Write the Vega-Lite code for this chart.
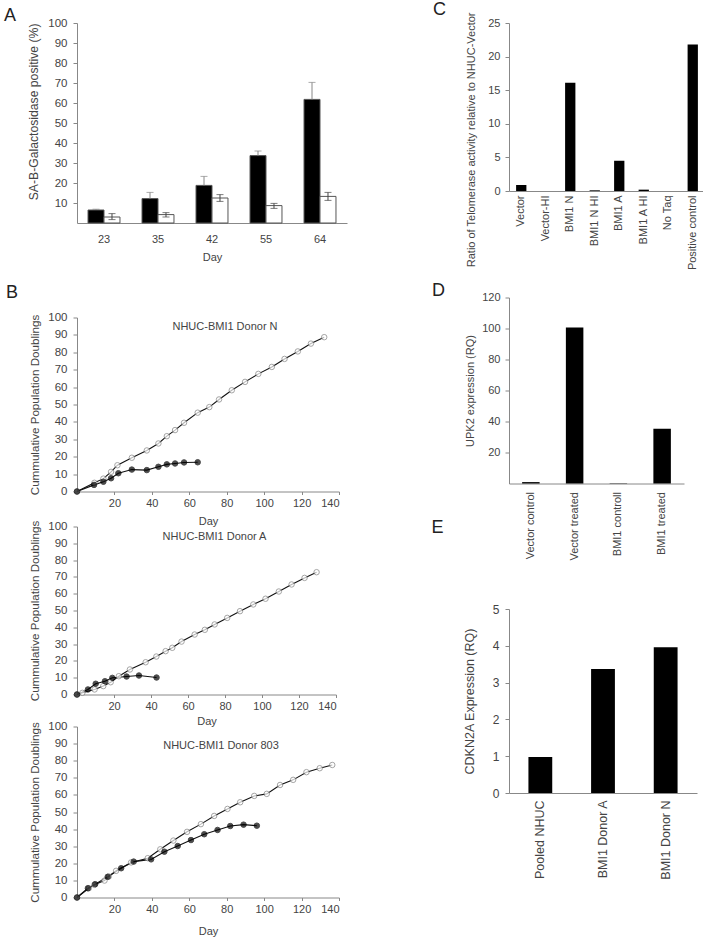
{
  "$schema": "https://vega.github.io/schema/vega-lite/v6.json",
  "background": "white",
  "padding": {"left": 3, "top": 1, "right": 0, "bottom": 0},
  "config": {
    "font": "Liberation Sans",
    "view": {"stroke": null},
    "axis": {
      "domainColor": "#888", "tickColor": "#888", "labelColor": "#444", "titleColor": "#444",
      "labelFont": "Liberation Sans", "titleFont": "Liberation Sans", "labelOverlap": false,
      "labelFontSize": 11, "titleFontSize": 11, "titleFontWeight": "normal", "grid": false
    },
    "title": {"font": "Liberation Sans", "fontWeight": "normal", "fontSize": 18, "color": "#222", "anchor": "start"}
  },
  "datasets": {
    "galact": [
      {"day": "23", "group": "Vector", "value": 6.5, "lo": 6.5, "hi": 6.9},
      {"day": "23", "group": "BMI1", "value": 3.0, "lo": 1.7, "hi": 4.7},
      {"day": "35", "group": "Vector", "value": 12.2, "lo": 12.2, "hi": 15.3},
      {"day": "35", "group": "BMI1", "value": 4.2, "lo": 3.0, "hi": 5.2},
      {"day": "42", "group": "Vector", "value": 18.8, "lo": 18.8, "hi": 23.3},
      {"day": "42", "group": "BMI1", "value": 12.5, "lo": 10.8, "hi": 14.2},
      {"day": "55", "group": "Vector", "value": 33.7, "lo": 33.7, "hi": 36.0},
      {"day": "55", "group": "BMI1", "value": 8.7, "lo": 7.3, "hi": 9.8},
      {"day": "64", "group": "Vector", "value": 61.8, "lo": 61.8, "hi": 70.3},
      {"day": "64", "group": "BMI1", "value": 13.3, "lo": 11.3, "hi": 15.3}
    ],
    "b1": [
      {"series": "BMI1", "day": 0, "pd": 0}, {"series": "BMI1", "day": 9.3, "pd": 5.0}, {"series": "BMI1", "day": 14.1, "pd": 7.4},
      {"series": "BMI1", "day": 18.2, "pd": 11.3}, {"series": "BMI1", "day": 21.6, "pd": 15.1}, {"series": "BMI1", "day": 29.3, "pd": 19.4},
      {"series": "BMI1", "day": 37.3, "pd": 23.6}, {"series": "BMI1", "day": 43.5, "pd": 27.6}, {"series": "BMI1", "day": 48.0, "pd": 31.8},
      {"series": "BMI1", "day": 52.4, "pd": 35.3}, {"series": "BMI1", "day": 57.2, "pd": 39.5}, {"series": "BMI1", "day": 64.5, "pd": 45.3},
      {"series": "BMI1", "day": 70.7, "pd": 48.5}, {"series": "BMI1", "day": 75.9, "pd": 52.9}, {"series": "BMI1", "day": 82.7, "pd": 58.2},
      {"series": "BMI1", "day": 89.8, "pd": 63.0}, {"series": "BMI1", "day": 96.9, "pd": 67.6}, {"series": "BMI1", "day": 104.1, "pd": 71.6},
      {"series": "BMI1", "day": 110.9, "pd": 76.2}, {"series": "BMI1", "day": 118.0, "pd": 80.5}, {"series": "BMI1", "day": 125.0, "pd": 85.0},
      {"series": "BMI1", "day": 132.1, "pd": 88.7},
      {"series": "Vector", "day": 0, "pd": 0}, {"series": "Vector", "day": 9.1, "pd": 3.8}, {"series": "Vector", "day": 14.1, "pd": 5.6},
      {"series": "Vector", "day": 18.2, "pd": 7.6}, {"series": "Vector", "day": 22.1, "pd": 10.5}, {"series": "Vector", "day": 29.3, "pd": 12.6},
      {"series": "Vector", "day": 37.3, "pd": 12.3}, {"series": "Vector", "day": 43.5, "pd": 14.2}, {"series": "Vector", "day": 48.0, "pd": 15.6},
      {"series": "Vector", "day": 52.4, "pd": 16.1}, {"series": "Vector", "day": 57.2, "pd": 16.7}, {"series": "Vector", "day": 64.5, "pd": 16.8}
    ],
    "b2": [
      {"series": "BMI1", "day": 0, "pd": 0}, {"series": "BMI1", "day": 2.9, "pd": 1.0}, {"series": "BMI1", "day": 9.5, "pd": 3.0},
      {"series": "BMI1", "day": 14.2, "pd": 5.0}, {"series": "BMI1", "day": 18.2, "pd": 7.3}, {"series": "BMI1", "day": 22.6, "pd": 10.9},
      {"series": "BMI1", "day": 28.6, "pd": 14.9}, {"series": "BMI1", "day": 37.1, "pd": 19.2}, {"series": "BMI1", "day": 42.9, "pd": 22.6},
      {"series": "BMI1", "day": 47.9, "pd": 25.8}, {"series": "BMI1", "day": 51.5, "pd": 27.8}, {"series": "BMI1", "day": 56.5, "pd": 31.5},
      {"series": "BMI1", "day": 63.6, "pd": 35.7}, {"series": "BMI1", "day": 69.1, "pd": 38.5}, {"series": "BMI1", "day": 74.4, "pd": 41.7},
      {"series": "BMI1", "day": 81.2, "pd": 45.6}, {"series": "BMI1", "day": 88.1, "pd": 49.6}, {"series": "BMI1", "day": 95.3, "pd": 53.6},
      {"series": "BMI1", "day": 101.9, "pd": 57.0}, {"series": "BMI1", "day": 109.1, "pd": 61.3}, {"series": "BMI1", "day": 116.0, "pd": 65.5},
      {"series": "BMI1", "day": 123.0, "pd": 69.4}, {"series": "BMI1", "day": 129.5, "pd": 72.8},
      {"series": "Vector", "day": 0, "pd": 0}, {"series": "Vector", "day": 5.9, "pd": 3.0}, {"series": "Vector", "day": 10.1, "pd": 6.4},
      {"series": "Vector", "day": 15.1, "pd": 7.9}, {"series": "Vector", "day": 19.1, "pd": 9.9}, {"series": "Vector", "day": 26.8, "pd": 10.7},
      {"series": "Vector", "day": 33.5, "pd": 11.3}, {"series": "Vector", "day": 43.0, "pd": 10.1}
    ],
    "b3": [
      {"series": "BMI1", "day": 0, "pd": 0}, {"series": "BMI1", "day": 6.3, "pd": 5.4}, {"series": "BMI1", "day": 9.3, "pd": 7.4},
      {"series": "BMI1", "day": 14.7, "pd": 9.9}, {"series": "BMI1", "day": 17.0, "pd": 12.3}, {"series": "BMI1", "day": 20.9, "pd": 15.6},
      {"series": "BMI1", "day": 28.9, "pd": 20.5}, {"series": "BMI1", "day": 37.8, "pd": 23.0}, {"series": "BMI1", "day": 44.5, "pd": 28.2},
      {"series": "BMI1", "day": 51.5, "pd": 33.3}, {"series": "BMI1", "day": 58.8, "pd": 38.4}, {"series": "BMI1", "day": 66.2, "pd": 42.9},
      {"series": "BMI1", "day": 73.3, "pd": 47.7}, {"series": "BMI1", "day": 80.4, "pd": 51.8}, {"series": "BMI1", "day": 87.2, "pd": 55.7},
      {"series": "BMI1", "day": 94.7, "pd": 59.4}, {"series": "BMI1", "day": 101.4, "pd": 60.6}, {"series": "BMI1", "day": 108.5, "pd": 65.8},
      {"series": "BMI1", "day": 115.5, "pd": 68.8}, {"series": "BMI1", "day": 122.6, "pd": 73.3}, {"series": "BMI1", "day": 129.7, "pd": 75.6},
      {"series": "BMI1", "day": 136.4, "pd": 77.5},
      {"series": "Vector", "day": 0, "pd": 0}, {"series": "Vector", "day": 5.8, "pd": 5.4}, {"series": "Vector", "day": 9.7, "pd": 7.8},
      {"series": "Vector", "day": 16.4, "pd": 12.1}, {"series": "Vector", "day": 23.6, "pd": 17.1}, {"series": "Vector", "day": 30.3, "pd": 21.0},
      {"series": "Vector", "day": 39.6, "pd": 22.3}, {"series": "Vector", "day": 46.7, "pd": 26.8}, {"series": "Vector", "day": 53.8, "pd": 30.1},
      {"series": "Vector", "day": 60.9, "pd": 33.6}, {"series": "Vector", "day": 68.0, "pd": 37.0}, {"series": "Vector", "day": 75.1, "pd": 39.5},
      {"series": "Vector", "day": 81.9, "pd": 41.8}, {"series": "Vector", "day": 89.0, "pd": 42.6}, {"series": "Vector", "day": 96.1, "pd": 42.0}
    ],
    "telo": [
      {"sample": "Vector", "ratio": 0.9}, {"sample": "Vector-HI", "ratio": 0.0}, {"sample": "BMI1 N", "ratio": 16.1},
      {"sample": "BMI1 N HI", "ratio": 0.1}, {"sample": "BMI1 A", "ratio": 4.5}, {"sample": "BMI1 A HI", "ratio": 0.2},
      {"sample": "No Taq", "ratio": 0.0}, {"sample": "Positive control", "ratio": 21.8}
    ],
    "upk2": [
      {"sample": "Vector control", "rq": 0.9}, {"sample": "Vector treated", "rq": 100.7},
      {"sample": "BMI1 controll", "rq": 0.2}, {"sample": "BMI1 treated", "rq": 35.4}
    ],
    "cdkn2a": [
      {"sample": "Pooled NHUC", "rq": 0.98}, {"sample": "BMI1 Donor A", "rq": 3.37}, {"sample": "BMI1 Donor N", "rq": 3.96}
    ]
  },
  "spacing": 84,
  "hconcat": [
    {
      "spacing": 21.5,
      "vconcat": [
        {
          "width": 270, "height": 200,
          "title": {"text": "A", "dx": -23, "offset": -8},
          "data": {"name": "galact"},
          "encoding": {
            "x": {"field": "day", "type": "nominal", "sort": null,
                  "scale": {"paddingInner": 0, "paddingOuter": 0},
                  "axis": {"title": "Day", "labelAngle": 0, "ticks": false, "labelPadding": 10, "titlePadding": 7}},
            "xOffset": {"field": "group", "type": "nominal", "sort": ["Vector", "BMI1"],
                        "scale": {"paddingInner": 0, "paddingOuter": 0.69}}
          },
          "layer": [
            {
              "mark": {"type": "bar", "stroke": "#555", "strokeWidth": 1},
              "encoding": {
                "y": {"field": "value", "type": "quantitative", "scale": {"domain": [0, 100]},
                      "axis": {"title": "SA-B-Galactosidase positive (%)", "values": [10, 20, 30, 40, 50, 60, 70, 80, 90, 100],
                               "labelOverlap": false, "labelFontSize": 11.5, "titleFontSize": 12.2, "titleAnchor": "end", "titleY": 0,
                               "tickSize": 4, "labelPadding": 6, "minExtent": 30, "maxExtent": 30, "titlePadding": 7}},
                "fill": {"field": "group", "type": "nominal", "scale": {"domain": ["Vector", "BMI1"], "range": ["#000000", "#ffffff"]}, "legend": null}
              }
            },
            {
              "mark": {"type": "rule", "strokeWidth": 1},
              "encoding": {
                "y": {"field": "lo", "type": "quantitative",
                      "axis": {"title": "SA-B-Galactosidase positive (%)", "values": [10, 20, 30, 40, 50, 60, 70, 80, 90, 100],
                               "labelOverlap": false, "labelFontSize": 11.5, "titleFontSize": 12.2, "titleAnchor": "end", "titleY": 0,
                               "tickSize": 4, "labelPadding": 6, "minExtent": 30, "maxExtent": 30, "titlePadding": 7}},
                "y2": {"field": "hi"},
                "color": {"field": "group", "type": "nominal", "scale": {"domain": ["Vector", "BMI1"], "range": ["#888888", "#444444"]}, "legend": null}
              }
            },
            {
              "mark": {"type": "tick", "thickness": 1, "size": 7},
              "encoding": {
                "y": {"field": "hi", "type": "quantitative",
                      "axis": {"title": "SA-B-Galactosidase positive (%)", "values": [10, 20, 30, 40, 50, 60, 70, 80, 90, 100],
                               "labelOverlap": false, "labelFontSize": 11.5, "titleFontSize": 12.2, "titleAnchor": "end", "titleY": 0,
                               "tickSize": 4, "labelPadding": 6, "minExtent": 30, "maxExtent": 30, "titlePadding": 7}},
                "color": {"field": "group", "type": "nominal", "scale": {"domain": ["Vector", "BMI1"], "range": ["#888888", "#444444"]}, "legend": null}
              }
            },
            {
              "transform": [{"filter": {"field": "group", "equal": "BMI1"}}],
              "mark": {"type": "tick", "thickness": 1, "size": 7},
              "encoding": {
                "y": {"field": "lo", "type": "quantitative",
                      "axis": {"title": "SA-B-Galactosidase positive (%)", "values": [10, 20, 30, 40, 50, 60, 70, 80, 90, 100],
                               "labelOverlap": false, "labelFontSize": 11.5, "titleFontSize": 12.2, "titleAnchor": "end", "titleY": 0,
                               "tickSize": 4, "labelPadding": 6, "minExtent": 30, "maxExtent": 30, "titlePadding": 7}},
                "color": {"field": "group", "type": "nominal", "scale": {"domain": ["Vector", "BMI1"], "range": ["#888888", "#444444"]}, "legend": null}
              }
            }
          ]
        },
        {
          "title": {"text": "B", "dx": -23, "offset": 10},
          "spacing": -9,
          "vconcat": [
            {
              "width": 262, "height": 174,
              "title": {"text": "NHUC-BMI1 Donor N", "anchor": "middle", "frame": "group", "offset": -20, "dx": 17, "fontSize": 11, "color": "#444"},
              "data": {"name": "b1"},
              "encoding": {
                "x": {"field": "day", "type": "quantitative", "scale": {"domain": [0, 140]},
                      "axis": {"title": "Day", "values": [20, 40, 60, 80, 100, 120, 140], "tickSize": 3, "labelPadding": 3, "titlePadding": 7}},
                "y": {"field": "pd", "type": "quantitative", "scale": {"domain": [0, 100]},
                      "axis": {"title": "Cummulative Population Doublings", "values": [0, 10, 20, 30, 40, 50, 60, 70, 80, 90, 100],
                               "labelFontSize": 11.5, "titleFontSize": 11.6,
                               "tickSize": 4, "labelPadding": 6, "minExtent": 30, "maxExtent": 30, "titlePadding": 7}}
              },
              "layer": [
                {"mark": {"type": "line", "color": "#111111", "strokeWidth": 1.1}, "encoding": {"detail": {"field": "series"}}},
                {"mark": {"type": "point", "filled": true, "size": 30, "strokeWidth": 1},
                 "encoding": {
                   "fill": {"field": "series", "type": "nominal", "scale": {"domain": ["BMI1", "Vector"], "range": ["#d8d8d8", "#000000"]}, "legend": null},
                   "stroke": {"field": "series", "type": "nominal", "scale": {"domain": ["BMI1", "Vector"], "range": ["#808080", "#000000"]}, "legend": null}
                 }}
              ]
            },
            {
              "width": 259, "height": 168,
              "title": {"text": "NHUC-BMI1 Donor A", "anchor": "middle", "frame": "group", "offset": -22, "dx": 8, "fontSize": 11, "color": "#444"},
              "data": {"name": "b2"},
              "encoding": {
                "x": {"field": "day", "type": "quantitative", "scale": {"domain": [0, 140]},
                      "axis": {"title": "Day", "values": [20, 40, 60, 80, 100, 120, 140], "tickSize": 3, "labelPadding": 3, "titlePadding": 4}},
                "y": {"field": "pd", "type": "quantitative", "scale": {"domain": [0, 100]},
                      "axis": {"title": "Cummulative Population Doublings", "values": [0, 10, 20, 30, 40, 50, 60, 70, 80, 90, 100],
                               "labelFontSize": 11.5, "titleFontSize": 11.6,
                               "tickSize": 4, "labelPadding": 6, "minExtent": 30, "maxExtent": 30, "titlePadding": 7}}
              },
              "layer": [
                {"mark": {"type": "line", "color": "#111111", "strokeWidth": 1.1}, "encoding": {"detail": {"field": "series"}}},
                {"mark": {"type": "point", "filled": true, "size": 30, "strokeWidth": 1},
                 "encoding": {
                   "fill": {"field": "series", "type": "nominal", "scale": {"domain": ["BMI1", "Vector"], "range": ["#d8d8d8", "#000000"]}, "legend": null},
                   "stroke": {"field": "series", "type": "nominal", "scale": {"domain": ["BMI1", "Vector"], "range": ["#808080", "#000000"]}, "legend": null}
                 }}
              ]
            },
            {
              "width": 262, "height": 171,
              "title": {"text": "NHUC-BMI1 Donor 803", "anchor": "middle", "frame": "group", "offset": -30, "dx": 13, "fontSize": 11, "color": "#444"},
              "data": {"name": "b3"},
              "encoding": {
                "x": {"field": "day", "type": "quantitative", "scale": {"domain": [0, 140]},
                      "axis": {"title": "Day", "values": [20, 40, 60, 80, 100, 120, 140], "tickSize": 3, "labelPadding": 3, "titlePadding": 11}},
                "y": {"field": "pd", "type": "quantitative", "scale": {"domain": [0, 100]},
                      "axis": {"title": "Cummulative Population Doublings", "values": [0, 10, 20, 30, 40, 50, 60, 70, 80, 90, 100],
                               "labelFontSize": 11.5, "titleFontSize": 11.6,
                               "tickSize": 4, "labelPadding": 6, "minExtent": 30, "maxExtent": 30, "titlePadding": 7}}
              },
              "layer": [
                {"mark": {"type": "line", "color": "#111111", "strokeWidth": 1.1}, "encoding": {"detail": {"field": "series"}}},
                {"mark": {"type": "point", "filled": true, "size": 30, "strokeWidth": 1},
                 "encoding": {
                   "fill": {"field": "series", "type": "nominal", "scale": {"domain": ["BMI1", "Vector"], "range": ["#d8d8d8", "#000000"]}, "legend": null},
                   "stroke": {"field": "series", "type": "nominal", "scale": {"domain": ["BMI1", "Vector"], "range": ["#808080", "#000000"]}, "legend": null}
                 }}
              ]
            }
          ]
        }
      ]
    },
    {
      "spacing": -41,
      "vconcat": [
        {
          "spacing": 11.5,
          "vconcat": [
            {
              "title": {"text": "C", "dx": -32, "offset": -7},
              "vconcat": [
                {
                  "width": 196, "height": 168,
                  "data": {"name": "telo"},
                  "mark": {"type": "bar", "color": "#000000", "width": {"band": 0.42}},
                  "encoding": {
                    "x": {"field": "sample", "type": "nominal", "sort": null, "scale": {"paddingInner": 0, "paddingOuter": 0},
                          "axis": {"title": null, "labelAngle": -90, "ticks": false, "labelPadding": 4}},
                    "y": {"field": "ratio", "type": "quantitative", "scale": {"domain": [0, 25]},
                          "axis": {"title": "Ratio of Telomerase activity relative to NHUC-Vector", "values": [0, 5, 10, 15, 20, 25],
                                   "tickSize": 4, "labelPadding": 5, "minExtent": 27, "maxExtent": 27, "titlePadding": 6,
                                   "titleAnchor": "end", "titleY": -11}}
                  }
                }
              ]
            },
            {
              "title": {"text": "D", "dx": -32, "offset": -8.5},
              "vconcat": [
                {
                  "width": 175, "height": 186,
                  "data": {"name": "upk2"},
                  "mark": {"type": "bar", "color": "#000000", "width": {"band": 0.4}},
                  "encoding": {
                    "x": {"field": "sample", "type": "nominal", "sort": null, "scale": {"paddingInner": 0, "paddingOuter": 0},
                          "axis": {"title": null, "labelAngle": -90, "ticks": false, "labelPadding": 8}},
                    "y": {"field": "rq", "type": "quantitative", "scale": {"domain": [0, 120]},
                          "axis": {"title": "UPK2 expression (RQ)", "values": [20, 40, 60, 80, 100, 120],
                                   "tickSize": 4, "labelPadding": 5, "minExtent": 27, "maxExtent": 27, "titlePadding": 7}}
                  }
                }
              ]
            }
          ]
        },
        {
          "title": {"text": "E", "dx": -32, "offset": 66},
          "vconcat": [
            {
              "width": 188, "height": 184,
              "data": {"name": "cdkn2a"},
              "mark": {"type": "bar", "color": "#000000", "width": {"band": 0.38}},
              "encoding": {
                "x": {"field": "sample", "type": "nominal", "sort": null, "scale": {"paddingInner": 0, "paddingOuter": 0},
                      "axis": {"title": null, "labelAngle": -90, "ticks": false, "labelPadding": 7, "labelFontSize": 12.5}},
                "y": {"field": "rq", "type": "quantitative", "scale": {"domain": [0, 5]},
                      "axis": {"title": "CDKN2A Expression (RQ)", "values": [0, 1, 2, 3, 4, 5], "labelFontSize": 12, "titleFontSize": 12.5,
                               "tickSize": 4, "labelPadding": 6, "minExtent": 27, "maxExtent": 27, "titlePadding": 5.5}}
              }
            }
          ]
        }
      ]
    }
  ]
}
